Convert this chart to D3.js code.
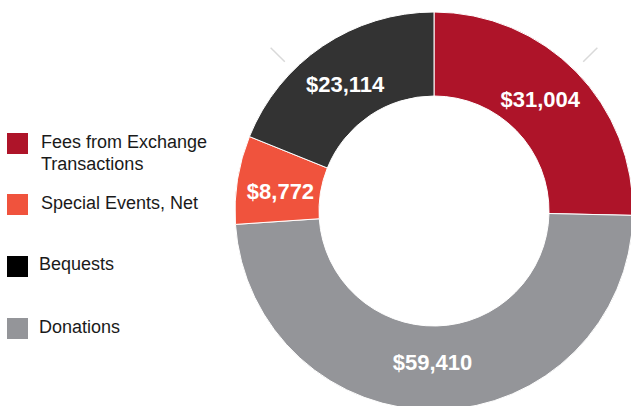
<!DOCTYPE html>
<html>
<head>
<meta charset="utf-8">
<script src="https://cdn.jsdelivr.net/npm/d3@7"></script>
<style>
  body { margin: 0; background: #fff; }
  svg { display: block; font-family: "Liberation Sans", Arial, sans-serif; }
</style>
</head>
<body>
<div id="chart"></div>
<script>
// slices in drawing order, clockwise from 12 o'clock
const categories = ['Fees from Exchange Transactions', 'Donations', 'Special Events, Net', 'Bequests'];
const values = [31004, 59410, 8772, 23114];
const sliceColors = ['#ae1429', '#949599', '#f0533d', '#333333'];

// legend order as printed
const legendLabels = [['Fees from Exchange', 'Transactions'], ['Special Events, Net'], ['Bequests'], ['Donations']];
const legendColors = ['#ae1429', '#f0533d', '#000000', '#949599'];

const width = 631, height = 406;
const cx = 434, cy = 211;
const outer = 199, inner = 115;

const svg = d3.select('#chart').append('svg')
  .attr('width', width)
  .attr('height', height);

const pie = d3.pie().sort(null).value(d => d.value);
const arc = d3.arc().innerRadius(inner).outerRadius(outer);

const data = categories.map((c, i) => ({ name: c, value: values[i], color: sliceColors[i] }));

const g = svg.append('g').attr('transform', `translate(${cx}, ${cy})`);

// faint guide ticks
[-Math.PI / 4, Math.PI / 4].forEach(a => {
  const p1 = d3.pointRadial(a, 211), p2 = d3.pointRadial(a, 231);
  g.append('line')
    .attr('x1', p1[0]).attr('y1', p1[1])
    .attr('x2', p2[0]).attr('y2', p2[1])
    .attr('stroke', '#d9d9d9')
    .attr('stroke-width', 1.5);
});

const slices = g.selectAll('.slice')
  .data(pie(data))
  .enter().append('g')
  .attr('class', 'slice');

slices.append('path')
  .attr('d', arc)
  .attr('fill', d => d.data.color)
  .attr('stroke', '#fff')
  .attr('stroke-width', 1);

// small hand nudges off the centroid, like the original layout
const nudge = [[-6, -2], [-5, -6], [1.5, 4.5], [-1, 3]];
const fmt = d3.format(',');
slices.append('text')
  .attr('transform', (d, i) => {
    const c = arc.centroid(d);
    return `translate(${c[0] + nudge[i][0]}, ${c[1] + nudge[i][1]})`;
  })
  .attr('text-anchor', 'middle')
  .attr('dy', '0.36em')
  .attr('fill', '#fff')
  .attr('font-weight', 'bold')
  .attr('font-size', 22)
  .text(d => '$' + fmt(d.data.value));

// legend
const legendY = [133, 194, 256, 318];
const baseY = [148, 209, 270, 333];
const textX = [41, 41, 39, 39];
const legend = svg.append('g').attr('class', 'legend');
legendLabels.forEach((lines, i) => {
  legend.append('rect')
    .attr('x', 7).attr('y', legendY[i])
    .attr('width', 21).attr('height', 21)
    .attr('fill', legendColors[i]);
  const t = legend.append('text')
    .attr('x', textX[i])
    .attr('y', baseY[i])
    .attr('font-size', 18)
    .attr('fill', '#1a1a1a');
  lines.forEach((ln, j) => {
    t.append('tspan')
      .attr('x', textX[i])
      .attr('dy', j === 0 ? 0 : 22)
      .text(ln);
  });
});
</script>
</body>
</html>
